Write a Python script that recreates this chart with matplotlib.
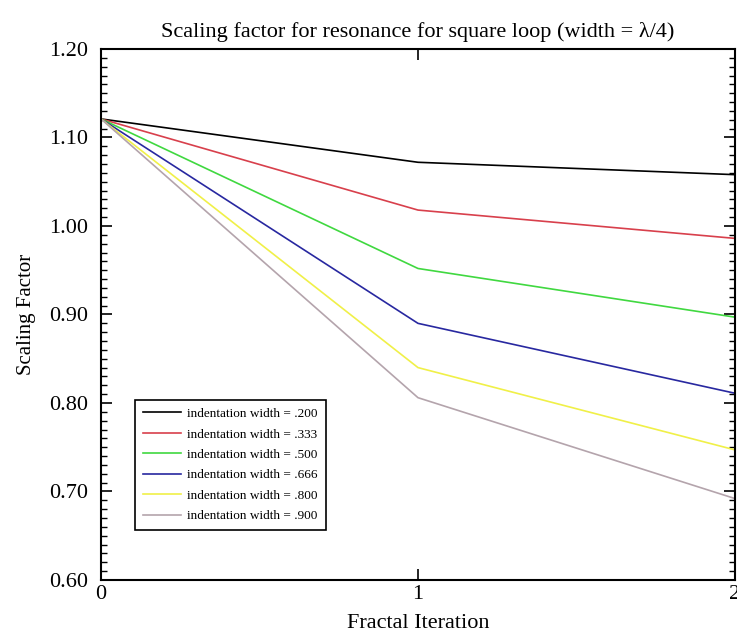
import matplotlib
matplotlib.use("Agg")
import matplotlib.pyplot as plt
from matplotlib.ticker import MultipleLocator, FormatStrFormatter

# fractal iteration vs scaling factor, one series per indentation width
iterations = [0, 1, 2]
labels = [
    "indentation width = .200",
    "indentation width = .333",
    "indentation width = .500",
    "indentation width = .666",
    "indentation width = .800",
    "indentation width = .900",
]
w200 = [1.121, 1.072, 1.058]
w333 = [1.121, 1.018, 0.986]
w500 = [1.121, 0.952, 0.897]
w666 = [1.121, 0.890, 0.811]
w800 = [1.121, 0.840, 0.747]
w900 = [1.121, 0.806, 0.692]
series = [w200, w333, w500, w666, w800, w900]
colors = ["#000000", "#d8404c", "#40d840", "#2828a0", "#f0f048", "#b4a4ac"]

plt.rcParams["font.family"] = ["Liberation Serif", "DejaVu Serif"]

fig = plt.figure(figsize=(7.37, 6.37), dpi=100)
ax = fig.add_axes([101 / 737, 1 - 580 / 637, 634 / 737, 531 / 637])

for vals, lab, c in zip(series, labels, colors):
    ax.plot(iterations, vals, color=c, linewidth=1.2, label=lab)

ax.set_xlim(0, 2)
ax.set_ylim(0.60, 1.20)
ax.xaxis.set_major_locator(MultipleLocator(1))
ax.yaxis.set_major_locator(MultipleLocator(0.10))
ax.yaxis.set_minor_locator(MultipleLocator(0.01))
ax.yaxis.set_major_formatter(FormatStrFormatter("%.2f"))
ax.tick_params(which="both", direction="in", top=True, right=True, labelsize=16)
ax.tick_params(which="major", length=8, width=1.2)
ax.tick_params(which="minor", length=4, width=1.0)
ax.tick_params(axis="y", pad=9)
for sp in ax.spines.values():
    sp.set_linewidth(1.5)

ax.set_title("Scaling factor for resonance for square loop (width = \u03bb/4)",
             fontsize=16, pad=9)
ax.set_xlabel("Fractal Iteration", fontsize=16, labelpad=7)
ax.set_ylabel("Scaling Factor", fontsize=15, labelpad=10)

leg = ax.legend(loc="lower left", bbox_to_anchor=(0.053, 0.094), fontsize=9.5,
                fancybox=False, framealpha=1, edgecolor="black",
                borderaxespad=0, handlelength=2.9, handletextpad=0.5,
                labelspacing=0.62, borderpad=0.6)
leg.get_frame().set_linewidth(1.2)

plt.savefig("out.png", dpi=100)
